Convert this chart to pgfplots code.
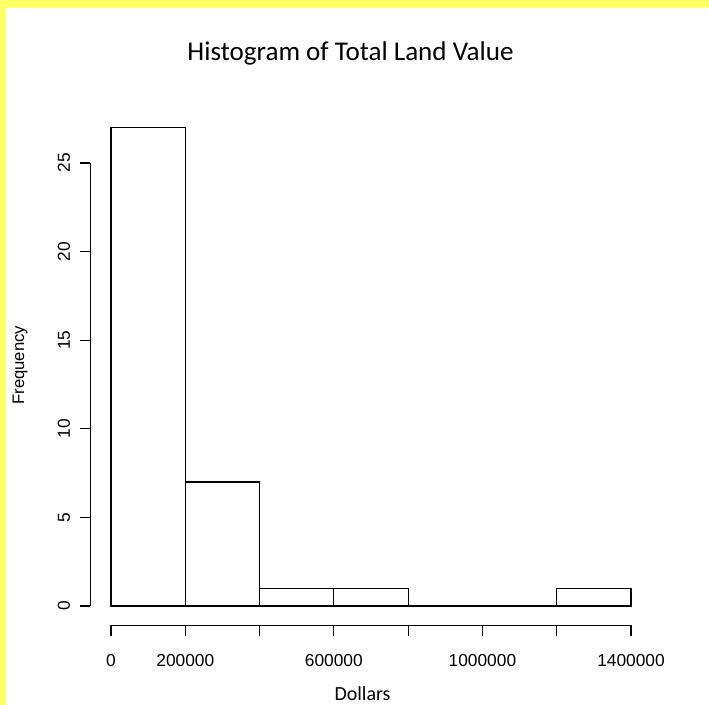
\documentclass[border=0pt]{standalone}
\usepackage{pgfplots}
\pgfplotsset{compat=1.18}
\usepackage{fontspec}
\setmainfont{Liberation Sans}
\newfontfamily\carlito{Carlito}
\definecolor{bgyellow}{HTML}{FFFF66}
\begin{document}
\begin{tikzpicture}
\fill[bgyellow] (0pt,0pt) rectangle (531.75pt,-528.75pt);
\fill[white] (4.5pt,-5pt) rectangle (531.75pt,-528.75pt);
\begin{axis}[
  at={(67.65pt,-468.83pt)}, anchor=south west,
  scale only axis, width=421.2pt, height=387.53pt,
  xmin=-56000, xmax=1456000, ymin=-1.08, ymax=28.08,
  axis line style={draw=none},
  clip=false,
  xtick pos=left, ytick pos=left,
  tick align=outside,
  major tick length=8pt,
  tick style={black, line width=0.9pt},
  xtick={0,200000,400000,600000,800000,1000000,1200000,1400000},
  xticklabels={0,200000,,600000,,1000000,,1400000},
  ytick={0,5,10,15,20,25},
  yticklabels={0,5,10,15,20,25},
  scaled x ticks=false, scaled y ticks=false,
  tick label style={font=\fontsize{13pt}{15pt}\selectfont},
  yticklabel style={rotate=90, anchor=south, yshift=3.5pt},
  xticklabel style={anchor=north, yshift=-10.5pt},
]
\addplot[ybar interval, draw=black, fill=white, line width=0.85pt]
  coordinates {(0,27) (200000,7) (400000,1) (600000,1) (800000,0) (1000000,0) (1200000,1) (1400000,1)};
\draw[line width=0.9pt] (axis cs:0,-1.08) -- (axis cs:1400000,-1.08);
\draw[line width=0.9pt] (axis cs:-56000,0) -- (axis cs:-56000,25);
\end{axis}
\node[font=\carlito\fontsize{20.3pt}{24pt}\selectfont] at (262.9pt,-39.75pt) {Histogram of Total Land Value};
\node[font=\carlito\fontsize{15pt}{18pt}\selectfont] at (271.9pt,-520pt) {Dollars};
\node[font=\fontsize{12.5pt}{15pt}\selectfont, rotate=90] at (15pt,-274pt) {Frequency};
\end{tikzpicture}
\end{document}
